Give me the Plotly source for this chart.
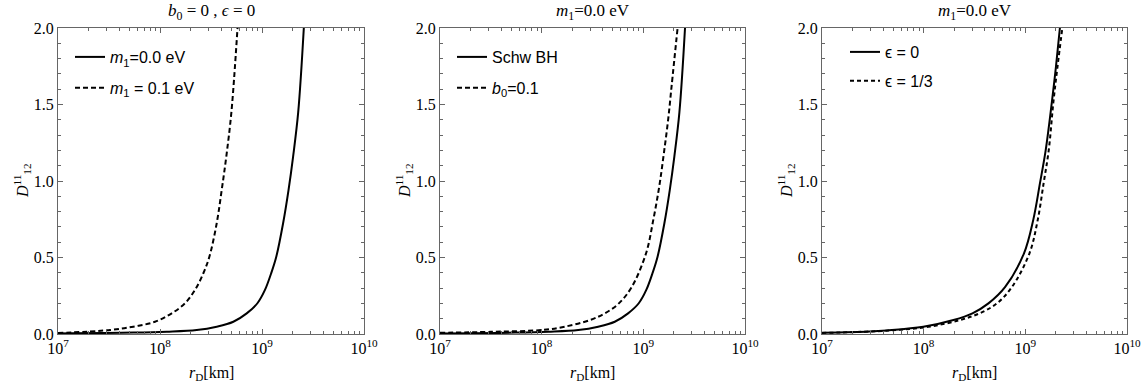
import plotly.graph_objects as go

# ---------------- data ----------------
# Panel 1: b0 = 0, eps = 0   (x values are log10 of r_D in km)
p1_solid_logr = [7.0, 7.74, 8.066, 8.36, 8.556, 8.719, 8.85, 8.955, 9.029, 9.09, 9.14, 9.207, 9.26, 9.305, 9.355, 9.41]
p1_solid_D    = [0.004, 0.009, 0.015, 0.026, 0.048, 0.080, 0.135, 0.201, 0.288, 0.397, 0.505, 0.724, 0.941, 1.16, 1.45, 2.0]
p1_dash_logr  = [7.0, 7.51, 7.738, 7.951, 8.115, 8.245, 8.343, 8.425, 8.484, 8.556, 8.605, 8.65, 8.70, 8.76]
p1_dash_D     = [0.006, 0.026, 0.048, 0.080, 0.135, 0.201, 0.288, 0.397, 0.505, 0.724, 0.941, 1.16, 1.45, 2.0]

# Panel 2: m1 = 0.0 eV
p2_solid_logr = [7.0, 7.74, 8.066, 8.36, 8.556, 8.719, 8.85, 8.955, 9.029, 9.09, 9.14, 9.207, 9.26, 9.305, 9.355, 9.41]
p2_solid_D    = [0.004, 0.009, 0.015, 0.026, 0.048, 0.080, 0.135, 0.201, 0.288, 0.397, 0.505, 0.724, 0.941, 1.16, 1.45, 2.0]
p2_dash_logr  = [7.0, 7.5, 8.0, 8.213, 8.475, 8.62, 8.753, 8.885, 9.026, 9.098, 9.157, 9.203, 9.245, 9.278, 9.337]
p2_dash_D     = [0.008, 0.014, 0.026, 0.046, 0.091, 0.135, 0.196, 0.306, 0.526, 0.746, 0.966, 1.186, 1.406, 1.62, 2.0]

# Panel 3: m1 = 0.0 eV
p3_solid_logr = [7.0, 7.47, 7.636, 7.996, 8.293, 8.48, 8.637, 8.8, 8.986, 9.078, 9.144, 9.2, 9.26, 9.30, 9.34]
p3_solid_D    = [0.008, 0.016, 0.023, 0.047, 0.091, 0.135, 0.20, 0.306, 0.526, 0.746, 0.986, 1.2, 1.51, 1.74, 2.0]
p3_dash_logr  = [7.0, 7.67, 8.045, 8.357, 8.55, 8.72, 8.867, 9.04, 9.122, 9.18, 9.23, 9.275, 9.315, 9.364]
p3_dash_D     = [0.007, 0.023, 0.047, 0.091, 0.135, 0.20, 0.306, 0.526, 0.746, 0.986, 1.2, 1.51, 1.74, 2.0]

x_tickvals = [1e7, 1e8, 1e9, 1e10]
x_ticktext = ["10<sup>7</sup>", "10<sup>8</sup>", "10<sup>9</sup>", "10<sup>10</sup>"]
y_tickvals = [0.0, 0.5, 1.0, 1.5, 2.0]
y_ticktext = ["0.0", "0.5", "1.0", "1.5", "2.0"]

panel_titles = ["<i>b</i><sub>0</sub> = 0 , <i>ϵ</i> = 0",
                "<i>m</i><sub>1</sub>=0.0 eV",
                "<i>m</i><sub>1</sub>=0.0 eV"]
legend_names = [["<i>m</i><sub>1</sub>=0.0 eV", "<i>m</i><sub>1</sub> = 0.1 eV"],
                ["Schw BH", "<i>b</i><sub>0</sub>=0.1"],
                ["ϵ = 0", "ϵ = 1/3"]]
x_title = "<i>r</i><sub>D</sub>[km]"
y_title = "<i>D</i><sup>11</sup><sub>12</sub>"

# ---------------- figure ----------------
W, H = 1146, 390
MT, MB = 28, 56
PH = H - MT - MB
doms = [(58, 364), (440, 745), (822, 1127)]
frame_col = "#666666"
serif = "Liberation Serif"
sans = "Liberation Sans"

panels = [
    (p1_solid_logr, p1_solid_D, p1_dash_logr, p1_dash_D),
    (p2_solid_logr, p2_solid_D, p2_dash_logr, p2_dash_D),
    (p3_solid_logr, p3_solid_D, p3_dash_logr, p3_dash_D),
]

fig = go.Figure()
annotations = []
legend_x = [70, 452, 845]
legend_top = [40, 40, 35]
legend_gap = [7, 7, 5]
dash_style = ["5px,3px", "5px,3px", "4px,3px"]

for i, (sl, sd, dl, dd) in enumerate(panels):
    sfx = "" if i == 0 else str(i + 1)
    lg = "legend" if i == 0 else f"legend{i + 1}"
    fig.add_trace(go.Scatter(
        x=[10 ** v for v in sl], y=sd, mode="lines",
        line=dict(color="black", width=2, shape="spline", smoothing=1.0),
        name=legend_names[i][0], xaxis="x" + sfx, yaxis="y" + sfx,
        legend=lg, legendgroup=f"a{i}", hoverinfo="skip"))
    fig.add_trace(go.Scatter(
        x=[10 ** v for v in dl], y=dd, mode="lines",
        line=dict(color="black", width=2, dash=dash_style[i], shape="spline", smoothing=1.0),
        name=legend_names[i][1], xaxis="x" + sfx, yaxis="y" + sfx,
        legend=lg, legendgroup=f"b{i}", hoverinfo="skip"))

    d0, d1 = doms[i]
    xa = dict(
        type="log", range=[7, 10], domain=[d0 / W, d1 / W], anchor="y" + sfx,
        automargin=False,
        tickvals=x_tickvals, ticktext=x_ticktext, ticks="inside", ticklen=5,
        tickcolor=frame_col, showline=True, linecolor=frame_col, linewidth=1,
        mirror="allticks", showgrid=False, zeroline=False,
        tickfont=dict(family=serif, size=16, color="black"),
        minor=dict(ticks="inside", ticklen=3, tickcolor=frame_col, dtick="D1", showgrid=False),
    )
    ya = dict(
        range=[0, 2], domain=[0, 1], anchor="x" + sfx, automargin=False,
        tickvals=y_tickvals, ticktext=y_ticktext, ticks="inside", ticklen=5,
        tickcolor=frame_col, showline=True, linecolor=frame_col, linewidth=1,
        mirror="allticks", showgrid=False, zeroline=False,
        tickfont=dict(family=serif, size=16, color="black"),
        minor=dict(ticks="inside", ticklen=3, tickcolor=frame_col, dtick=0.1, showgrid=False),
    )
    fig.update_layout(**{"xaxis" + sfx: xa, "yaxis" + sfx: ya})

    cx = (d0 + d1) / 2 / W
    annotations.append(dict(text=panel_titles[i], x=cx, y=1 + (MT - 12) / PH,
                            xref="paper", yref="paper", xanchor="center", yanchor="middle",
                            showarrow=False, font=dict(family=serif, size=17, color="black")))
    annotations.append(dict(text=x_title, x=cx, y=-(373 - (H - MB)) / PH,
                            xref="paper", yref="paper", xanchor="center", yanchor="middle",
                            showarrow=False, font=dict(family=serif, size=16, color="black")))
    annotations.append(dict(text=y_title, x=(d0 - 36) / W, y=1 - (181 - MT) / PH,
                            xref="paper", yref="paper", xanchor="center", yanchor="middle",
                            textangle=-90, showarrow=False,
                            font=dict(family=serif, size=16, color="black")))

    legend_cfg = dict(
        x=legend_x[i] / W, y=1 - (legend_top[i] - MT) / PH, xanchor="left", yanchor="top",
        bgcolor="rgba(0,0,0,0)", borderwidth=0, itemwidth=30,
        font=dict(family=sans, size=16, color="black"),
        traceorder="grouped", tracegroupgap=legend_gap[i], itemclick=False,
    )
    fig.update_layout(**{lg: legend_cfg})

fig.update_layout(
    width=W, height=H, margin=dict(l=0, r=0, t=MT, b=MB, autoexpand=False),
    paper_bgcolor="white", plot_bgcolor="white",
    showlegend=True, annotations=annotations,
)

fig.write_html("out.html")
